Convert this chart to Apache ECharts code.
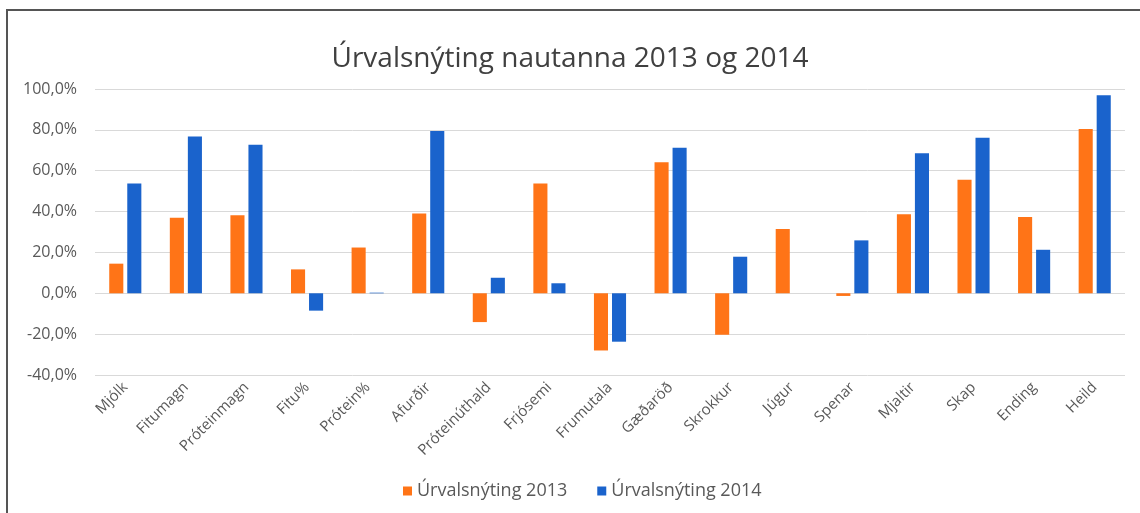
<!DOCTYPE html>
<html>
<head>
<meta charset="utf-8">
<script src="https://cdn.jsdelivr.net/npm/echarts@6/dist/echarts.min.js"></script>
<style>
html,body{margin:0;padding:0;background:#fff;}
#chart{width:1140px;height:513px;}
</style>
</head>
<body>
<div id="chart"></div>
<script>
var categories = ["Mjólk","Fitumagn","Próteinmagn","Fitu%","Prótein%","Afurðir","Próteinúthald","Frjósemi","Frumutala","Gæðaröð","Skrokkur","Júgur","Spenar","Mjaltir","Skap","Ending","Heild"];
var values2013 = [14.5, 37.0, 38.2, 11.7, 22.4, 39.0, -14.1, 53.7, -28.0, 64.2, -20.3, 31.5, -1.3, 38.7, 55.6, 37.4, 80.4];
var values2014 = [53.7, 76.8, 72.7, -8.5, 0.3, 79.4, 7.6, 4.9, -23.7, 71.2, 17.9, 0, 25.9, 68.6, 76.1, 21.3, 97.0];
var seriesNames = ["Úrvalsnýting 2013", "Úrvalsnýting 2014"];
var titleText = "Úrvalsnýting nautanna 2013 og 2014";

var chart = echarts.init(document.getElementById('chart'));
var font = "'Open Sans', 'Noto Sans', sans-serif";
chart.setOption({
  backgroundColor: '#ffffff',
  animation: false,
  title: {
    text: titleText,
    left: 'center',
    top: 40,
    textStyle: {fontFamily: font, fontWeight: 'normal', fontSize: 28, color: '#404040'}
  },
  graphic: [{
    type: 'polyline',
    shape: {points: [[7, 513], [7, 10], [1140, 10]]},
    style: {stroke: '#555555', lineWidth: 2, fill: null}
  }],
  legend: {
    bottom: 8,
    left: 398,
    itemWidth: 9,
    itemHeight: 9,
    itemGap: 30,
    icon: 'rect',
    textStyle: {fontFamily: font, fontSize: 18, color: '#595959'},
    data: seriesNames
  },
  grid: {left: 95, right: 15, top: 89, bottom: 138, containLabel: false},
  xAxis: {
    type: 'category',
    data: categories,
    axisLine: {show: false},
    axisTick: {show: false},
    axisLabel: {rotate: 45, interval: 0, margin: 10, fontFamily: font, fontSize: 15, color: '#595959'}
  },
  yAxis: {
    type: 'value',
    min: -40,
    max: 100,
    interval: 20,
    axisLine: {show: false},
    axisTick: {show: false},
    splitLine: {lineStyle: {color: '#d9d9d9', width: 1}},
    axisLabel: {
      margin: 18, fontFamily: font, fontSize: 16, color: '#595959',
      formatter: function (v) { return v.toFixed(1).replace('.', ',') + '%'; }
    }
  },
  series: [
    {name: seriesNames[0], type: 'bar', data: values2013, itemStyle: {color: '#FF7417'}, barGap: '28%', barCategoryGap: '47%'},
    {name: seriesNames[1], type: 'bar', data: values2014, itemStyle: {color: '#1A63CC'}, barGap: '28%', barCategoryGap: '47%'}
  ]
});
</script>
</body>
</html>
